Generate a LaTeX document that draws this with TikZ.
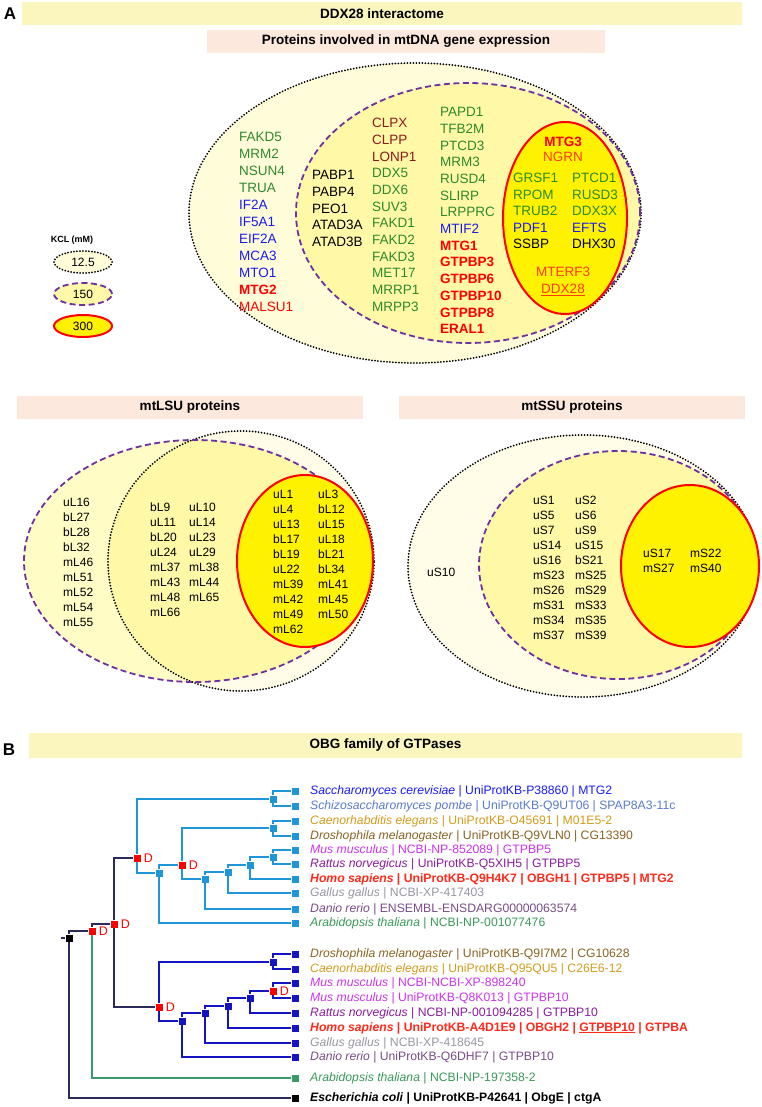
\documentclass[tikz,border=0pt]{standalone}
\usepackage{fontspec}
\setmainfont{Liberation Sans}
\usetikzlibrary{positioning,shapes.geometric}

\definecolor{barYellow}{HTML}{FAF6BD}
\definecolor{barPeach}{HTML}{FCE8DC}
\definecolor{outerFill}{HTML}{FFFCDA}
\definecolor{innerFill}{HTML}{FFF8A6}
\definecolor{leftFill}{HTML}{FFFCC6}
\definecolor{paleFill}{HTML}{FFFDE8}
\definecolor{ringPurple}{HTML}{7030A0}
\definecolor{protGreen}{HTML}{2D8A2D}
\definecolor{protBlue}{HTML}{1A1AEE}
\definecolor{protDarkRed}{HTML}{8E1B1B}
\definecolor{protOrange}{HTML}{FF3C14}
\definecolor{branchLight}{HTML}{1E96D8}
\definecolor{branchDark}{HTML}{1414C4}
\definecolor{branchNavy}{HTML}{2A2A5C}
\definecolor{branchGreen}{HTML}{3C9A6A}
\definecolor{spSacc}{HTML}{1A1AFF}
\definecolor{spSchizo}{HTML}{5A7ACC}
\definecolor{spCaeno}{HTML}{D39B1C}
\definecolor{spDroso}{HTML}{8A6222}
\definecolor{spMus}{HTML}{CC33EE}
\definecolor{spRattus}{HTML}{8A1C9E}
\definecolor{spHomo}{HTML}{FF2A1A}
\definecolor{spGallus}{HTML}{9A96A2}
\definecolor{spDanio}{HTML}{7A4C88}
\definecolor{spArab}{HTML}{3A9A5A}

\begin{document}
\begin{tikzpicture}[x=1pt, y=-1pt, >=stealth,
  heading/.style={font=\fontsize{13.5}{15}\selectfont\bfseries, inner sep=0pt},
  yellowbar/.style={heading, fill=barYellow},
  peachbar/.style={heading, fill=barPeach},
  panel/.style={font=\fontsize{17}{19}\selectfont\bfseries, inner sep=0pt},
  prot/.style={anchor=west, inner sep=0pt, font=\fontsize{13.5}{16}\selectfont},
  pg/.style={prot, text=protGreen},
  pb/.style={prot, text=protBlue},
  pk/.style={prot},
  pdr/.style={prot, text=protDarkRed},
  pr/.style={prot, text=red},
  prb/.style={prot, text=red, font=\fontsize{13.5}{16}\selectfont\bfseries},
  po/.style={prot, text=protOrange},
  rib/.style={anchor=west, inner sep=0pt, font=\fontsize{12}{14}\selectfont},
  dotring/.style={line width=2pt, dash pattern=on 0pt off 3pt, line cap=round},
  dashring/.style={ringPurple, line width=1.8pt, dash pattern=on 6pt off 3.5pt},
  redring/.style={red, line width=2pt, fill=yellow},
  keyring/.style={ellipse, draw, inner sep=0pt, minimum width=58pt, minimum height=22pt, font=\fontsize{12}{14}\selectfont},
  knob/.style={rectangle, inner sep=0pt, minimum size=7pt},
  dmark/.style={text=red, inner sep=0pt, font=\fontsize{12.5}{14}\selectfont},
  species/.style={anchor=west, inner sep=0pt, font=\fontsize{12.2}{14}\selectfont}]

\fill[white] (0,0) rectangle (761,1107);
\useasboundingbox (0,0) rectangle (761,1107);

\node[panel] (panelA) at (10,14) {A};
\node[yellowbar, minimum width=720pt, minimum height=23pt] (interactome) at (382,13.5) {DDX28 interactome};
\node[peachbar, minimum width=398pt, minimum height=23pt] (expression) at (406,41.5) {Proteins involved in mtDNA gene expression};

\fill[outerFill] (415,213) ellipse [x radius=226pt, y radius=150pt];
\draw[dotring] (415,213) ellipse [x radius=226pt, y radius=150pt];
\draw[dashring, fill=innerFill] (468,213) ellipse [x radius=172pt, y radius=130pt];
\draw[redring] (565,218) ellipse [x radius=62pt, y radius=96pt];

\foreach \w/\s [count=\i] in {FAKD5/pg,MRM2/pg,NSUN4/pg,TRUA/pg,IF2A/pb,IF5A1/pb,EIF2A/pb,MCA3/pb,MTO1/pb,MTG2/prb,MALSU1/pr}
  \node[\s] (low-\i) at (239,{137+17*(\i-1)}) {\w};
\foreach \w [count=\i] in {PABP1,PABP4,PEO1,ATAD3A,ATAD3B}
  \node[pk] (mid-\i) at (312,{175+16.75*(\i-1)}) {\w};
\foreach \w/\s [count=\i] in {CLPX/pdr,CLPP/pdr,LONP1/pdr,DDX5/pg,DDX6/pg,SUV3/pg,FAKD1/pg,FAKD2/pg,FAKD3/pg,MET17/pg,MRRP1/pg,MRPP3/pg}
  \node[\s] (med-\i) at (372,{123+16.7*(\i-1)}) {\w};
\foreach \w/\s [count=\i] in {PAPD1/pg,TFB2M/pg,PTCD3/pg,MRM3/pg,RUSD4/pg,SLIRP/pg,LRPPRC/pg,MTIF2/pb,MTG1/prb,GTPBP3/prb,GTPBP6/prb,GTPBP10/prb,GTPBP8/prb,ERAL1/prb}
  \node[\s] (mhi-\i) at (440,{112+16.7*(\i-1)}) {\w};
\node[prb, anchor=center] (mtg3) at (563,142) {MTG3};
\node[po, anchor=center] (ngrn) at (563,157) {NGRN};
\foreach \a/\b/\s [count=\i] in {GRSF1/PTCD1/pg,RPOM/RUSD3/pg,TRUB2/DDX3X/pg,PDF1/EFTS/pb,SSBP/DHX30/pk}{
  \node[\s] (core-a\i) at (513,{178+16.5*(\i-1)}) {\a};
  \node[\s] (core-b\i) at (572,{178+16.5*(\i-1)}) {\b};
}
\node[po, anchor=center] (mterf3) at (563,272) {MTERF3};
\node[po, anchor=center] (ddx28) at (563,290) {\underline{DDX28}};

\node[font=\fontsize{9}{10}\selectfont\bfseries, inner sep=0pt] (kcl) at (72,240) {KCL (mM)};
\node[keyring, dotring, fill=outerFill] (key-low) at (83,262) {12.5};
\node[keyring, dashring, fill=innerFill, text=black] (key-mid) at (83,294) {150};
\node[keyring, redring, text=black] (key-high) at (83,326) {300};

\node[peachbar, minimum width=346pt, minimum height=23pt] (lsu) at (190,407.5) {mtLSU proteins};
\node[peachbar, minimum width=346pt, minimum height=23pt] (ssu) at (572,407.5) {mtSSU proteins};

\fill[paleFill] (241,561) ellipse [x radius=133pt, y radius=130pt];
\fill[leftFill] (195,561) ellipse [x radius=171pt, y radius=121pt];
\begin{scope}
  \clip (241,561) ellipse [x radius=133pt, y radius=130pt];
  \fill[innerFill] (195,561) ellipse [x radius=171pt, y radius=121pt];
\end{scope}
\draw[dotring] (241,561) ellipse [x radius=133pt, y radius=130pt];
\draw[dashring] (195,561) ellipse [x radius=171pt, y radius=121pt];
\draw[redring] (305,561) ellipse [x radius=68pt, y radius=86pt];

\foreach \w [count=\i] in {uL16,bL27,bL28,bL32,mL46,mL51,mL52,mL54,mL55}
  \node[rib] (lsu-a\i) at (63,{502+15*(\i-1)}) {\w};
\foreach \w [count=\i] in {bL9,uL11,bL20,uL24,mL37,mL43,mL48,mL66}
  \node[rib] (lsu-b\i) at (150,{507+15.1*(\i-1)}) {\w};
\foreach \w [count=\i] in {uL10,uL14,uL23,uL29,mL38,mL44,mL65}
  \node[rib] (lsu-c\i) at (189,{507+15.1*(\i-1)}) {\w};
\foreach \w [count=\i] in {uL1,uL4,uL13,bL17,bL19,uL22,mL39,mL42,mL49,mL62}
  \node[rib] (lsu-d\i) at (273,{494+15*(\i-1)}) {\w};
\foreach \w [count=\i] in {uL3,bL12,uL15,uL18,bL21,bL34,mL41,mL45,mL50}
  \node[rib] (lsu-e\i) at (318,{494+15*(\i-1)}) {\w};

\fill[paleFill] (583,566) ellipse [x radius=175pt, y radius=131pt];
\draw[dotring] (583,566) ellipse [x radius=175pt, y radius=131pt];
\draw[dashring, fill=innerFill] (618,565) ellipse [x radius=139pt, y radius=114pt];
\draw[redring] (690,566) ellipse [x radius=69pt, y radius=81pt];

\node[rib] (us10) at (427,572) {uS10};
\foreach \w [count=\i] in {uS1,uS5,uS7,uS14,uS16,mS23,mS26,mS31,mS34,mS37}
  \node[rib] (ssu-a\i) at (533,{500+15*(\i-1)}) {\w};
\foreach \w [count=\i] in {uS2,uS6,uS9,uS15,bS21,mS25,mS29,mS33,mS35,mS39}
  \node[rib] (ssu-b\i) at (575,{500+15*(\i-1)}) {\w};
\node[rib] (us17) at (643,553) {uS17};
\node[rib] (ms22) at (690,553) {mS22};
\node[rib] (ms27) at (643,568) {mS27};
\node[rib] (ms40) at (690,568) {mS40};

\node[panel] (panelB) at (9,750) {B};
\node[yellowbar, minimum width=713pt, minimum height=25pt] (obg) at (385.5,745.5) {OBG family of GTPases};

\foreach \y [count=\i] in {791,806,821,836,850,864,879,893,909,923}
  \node[knob, fill=branchLight] (leaf\i) at (295,\y) {};
\foreach \y [count=\i from 11] in {954,969,983,998,1013,1028,1043,1057}
  \node[knob, fill=branchDark] (leaf\i) at (295,\y) {};
\node[knob, fill=branchGreen] (leaf19) at (295,1078) {};
\node[knob, fill=black] (leaf20) at (295,1098) {};

\node[knob, fill=branchLight] (yeasts) at (273,799) {};
\node[knob, fill=branchLight] (worms) at (273,828) {};
\node[knob, fill=branchLight] (rodents) at (273,857) {};
\node[knob, fill=branchLight] (mammals) at (250,865) {};
\node[knob, fill=branchLight] (amniotes) at (228,872) {};
\node[knob, fill=branchLight] (vertebrates) at (205,879) {};
\node[knob, fill=red] (dupOne) at (182,865) {};
\node[knob, fill=branchLight] (plants) at (159,873) {};
\node[knob, fill=red] (dupTwo) at (137,858) {};

\node[knob, fill=branchDark] (worms2) at (273,962) {};
\node[knob, fill=red] (dupMus) at (273,991) {};
\node[knob, fill=branchDark] (rodents2) at (250,998) {};
\node[knob, fill=branchDark] (mammals2) at (228,1006) {};
\node[knob, fill=branchDark] (amniotes2) at (205,1013) {};
\node[knob, fill=branchDark] (vertebrates2) at (182,1021) {};
\node[knob, fill=red] (dupLow) at (159,1007) {};
\node[knob, fill=red] (dupMid) at (114,924) {};
\node[knob, fill=red] (dupTop) at (92,931) {};
\node[knob, fill=black] (root) at (69,938) {};
\coordinate (stub) at (61,938);

\begin{scope}[line width=1.1pt]
\draw[branchLight] (yeasts) |- (leaf1);
\draw[branchLight] (yeasts) |- (leaf2);
\draw[branchLight] (worms) |- (leaf3);
\draw[branchLight] (worms) |- (leaf4);
\draw[branchLight] (rodents) |- (leaf5);
\draw[branchLight] (rodents) |- (leaf6);
\draw[branchLight] (mammals) |- (rodents);
\draw[branchLight] (mammals) |- (leaf7);
\draw[branchLight] (amniotes) |- (mammals);
\draw[branchLight] (amniotes) |- (leaf8);
\draw[branchLight] (vertebrates) |- (amniotes);
\draw[branchLight] (vertebrates) |- (leaf9);
\draw[branchLight] (dupOne) |- (worms);
\draw[branchLight] (dupOne) |- (vertebrates);
\draw[branchLight] (plants) |- (dupOne);
\draw[branchLight] (plants) |- (leaf10);
\draw[branchLight] (dupTwo) |- (yeasts);
\draw[branchLight] (dupTwo) |- (plants);

\draw[branchDark] (worms2) |- (leaf11);
\draw[branchDark] (worms2) |- (leaf12);
\draw[branchDark] (dupMus) |- (leaf13);
\draw[branchDark] (dupMus) |- (leaf14);
\draw[branchDark] (rodents2) |- (dupMus);
\draw[branchDark] (rodents2) |- (leaf15);
\draw[branchDark] (mammals2) |- (rodents2);
\draw[branchDark] (mammals2) |- (leaf16);
\draw[branchDark] (amniotes2) |- (mammals2);
\draw[branchDark] (amniotes2) |- (leaf17);
\draw[branchDark] (vertebrates2) |- (amniotes2);
\draw[branchDark] (vertebrates2) |- (leaf18);
\draw[branchDark] (dupLow) |- (worms2);
\draw[branchDark] (dupLow) |- (vertebrates2);

\draw[branchNavy] (dupMid) |- (dupTwo);
\draw[branchNavy] (dupMid) |- (dupLow);
\draw[branchNavy] (dupTop) |- (dupMid);
\draw[branchGreen] (dupTop) |- (leaf19);
\draw[branchNavy] (root) |- (dupTop);
\draw[branchNavy] (root) |- (leaf20);
\draw[branchNavy] (stub) -- (root);
\end{scope}

\node[dmark, right=3pt of dupTwo] (dTwo) {D};
\node[dmark, right=3pt of dupOne] (dOne) {D};
\node[dmark, right=3pt of dupMus] (dMus) {D};
\node[dmark, right=3pt of dupLow] (dLow) {D};
\node[dmark, right=3pt of dupMid] (dMid) {D};
\node[dmark, right=3pt of dupTop] (dTop) {D};

\node[species, text=spSacc] (name1) at (310,791) {\textit{Saccharomyces cerevisiae} | UniProtKB-P38860 | MTG2};
\node[species, text=spSchizo] (name2) at (310,806) {\textit{Schizosaccharomyces pombe} | UniProtKB-Q9UT06 | SPAP8A3-11c};
\node[species, text=spCaeno] (name3) at (310,821) {\textit{Caenorhabditis elegans} | UniProtKB-O45691 | M01E5-2};
\node[species, text=spDroso] (name4) at (310,836) {\textit{Droshophila melanogaster} | UniProtKB-Q9VLN0 | CG13390};
\node[species, text=spMus] (name5) at (310,850) {\textit{Mus musculus} | NCBI-NP-852089 | GTPBP5};
\node[species, text=spRattus] (name6) at (310,864) {\textit{Rattus norvegicus} | UniProtKB-Q5XIH5 | GTPBP5};
\node[species, text=spHomo] (name7) at (310,879) {\bfseries\textit{Homo sapiens} | UniProtKB-Q9H4K7 | OBGH1 | GTPBP5 | MTG2};
\node[species, text=spGallus] (name8) at (310,893) {\textit{Gallus gallus} | NCBI-XP-417403};
\node[species, text=spDanio] (name9) at (310,909) {\textit{Danio rerio} | ENSEMBL-ENSDARG00000063574};
\node[species, text=spArab] (name10) at (310,923) {\textit{Arabidopsis thaliana} | NCBI-NP-001077476};
\node[species, text=spDroso] (name11) at (310,954) {\textit{Droshophila melanogaster} | UniProtKB-Q9I7M2 | CG10628};
\node[species, text=spCaeno] (name12) at (310,969) {\textit{Caenorhabditis elegans} | UniProtKB-Q95QU5 | C26E6-12};
\node[species, text=spMus] (name13) at (310,983) {\textit{Mus musculus} | NCBI-NCBI-XP-898240};
\node[species, text=spMus] (name14) at (310,998) {\textit{Mus musculus} | UniProtKB-Q8K013 | GTPBP10};
\node[species, text=spRattus] (name15) at (310,1013) {\textit{Rattus norvegicus} | NCBI-NP-001094285 | GTPBP10};
\node[species, text=spHomo] (name16) at (310,1028) {\bfseries\textit{Homo sapiens} | UniProtKB-A4D1E9 | OBGH2 | \underline{GTPBP10} | GTPBA};
\node[species, text=spGallus] (name17) at (310,1043) {\textit{Gallus gallus} | NCBI-XP-418645};
\node[species, text=spDanio] (name18) at (310,1057) {\textit{Danio rerio} | UniProtKB-Q6DHF7 | GTPBP10};
\node[species, text=spArab] (name19) at (310,1078) {\textit{Arabidopsis thaliana} | NCBI-NP-197358-2};
\node[species] (name20) at (310,1098) {\bfseries\textit{Escherichia coli} | UniProtKB-P42641 | ObgE | ctgA};
\end{tikzpicture}
\end{document}
